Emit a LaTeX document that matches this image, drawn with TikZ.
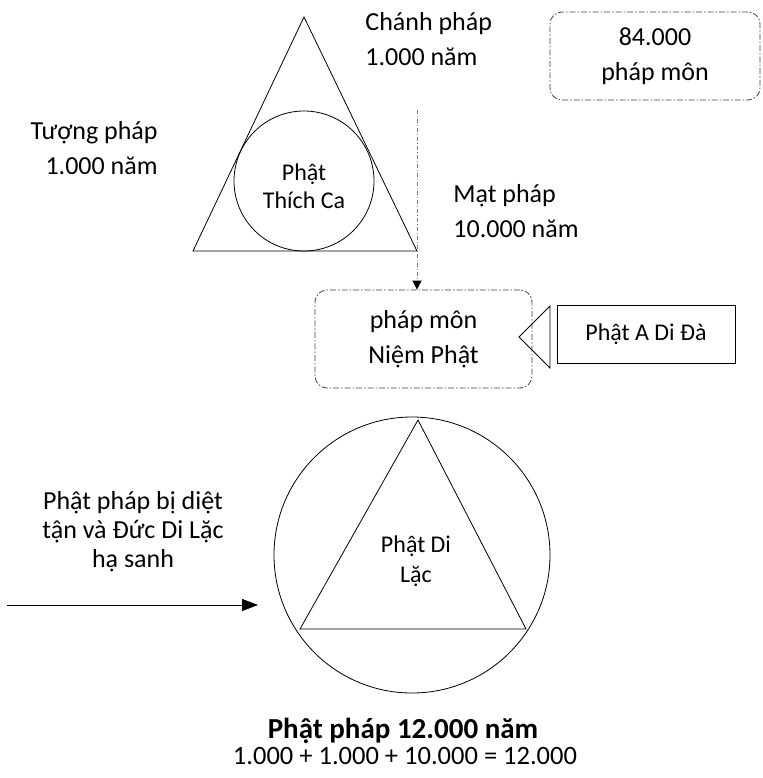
\documentclass[tikz,border=0pt]{standalone}
\usepackage{fontspec}
\setmainfont{Carlito}
\usetikzlibrary{arrows.meta}

\tikzset{
  txt/.style={align=center, font=\fontsize{26}{35}\selectfont, inner sep=0pt},
  small/.style={align=center, font=\fontsize{24}{28}\selectfont, inner sep=0pt},
  dashbox/.style={draw=black!75, rounded corners=12pt, dash pattern=on 6pt off 2pt on 1.5pt off 2pt,
    align=center, font=\fontsize{26}{35}\selectfont},
}

\begin{document}
\begin{tikzpicture}[x=1pt, y=-1pt, line width=0.8pt]
  \useasboundingbox (0,0) rectangle (762,778);

  % Phat Thich Ca
  \draw (304,17) -- (193,251) -- (417,251) -- cycle;
  \draw (304,181) circle (70);
  \node[small] (thichca) at (304,186) {Phật\\Thích Ca};

  \node[txt, align=left, anchor=west] (chanh) at (365,39) {Chánh pháp\\1.000 năm};
  \node[txt, align=right, anchor=east] (tuong) at (158,148) {Tượng pháp\\1.000 năm};
  \node[txt, align=left, anchor=west] (mat) at (453,211) {Mạt pháp\\10.000 năm};

  \node[dashbox, minimum width=210pt, minimum height=88pt] (bonvan) at (655,56) {84.000\\pháp môn};

  % Niem Phat
  \node[dashbox, minimum width=217pt, minimum height=98pt] (niem) at (423.5,339) {pháp môn\\Niệm Phật};
  \coordinate (dtop) at (417,110);
  \draw[gray, dash pattern=on 4pt off 2pt on 1pt off 2pt, -{Triangle[black, length=9pt, width=9pt]}]
    (dtop) -- (dtop |- niem.north);

  \draw (519,337) -- (550,306) -- (550,368) -- cycle;
  \node[draw, small, minimum width=178pt, minimum height=58pt] (adida) at (646,334) {Phật A Di Đà};

  % Phat Di Lac
  \draw (412,555) circle (138);
  \draw (418,420) -- (300,629) -- (526,629) -- cycle;
  \node[small, font=\fontsize{24}{30}\selectfont] (dilac) at (416,561) {Phật Di\\Lặc};

  \node[txt, font=\fontsize{26}{29}\selectfont] (diettan) at (133,532) {Phật pháp bị diệt\\tận và Đức Di Lặc\\hạ sanh};
  \coordinate (astart) at (7,605);
  \coordinate (aend) at (258,605);
  \draw[-{Triangle[length=16pt, width=12pt]}] (astart) -- (aend);

  \node[txt, font=\fontsize{29}{35}\selectfont\bfseries, anchor=base] (tong) at (403,738) {Phật pháp 12.000 năm};
  \node[txt, font=\fontsize{26.5}{35}\selectfont, anchor=base] (phep) at (405,764) {1.000 + 1.000 + 10.000 = 12.000};
\end{tikzpicture}
\end{document}
